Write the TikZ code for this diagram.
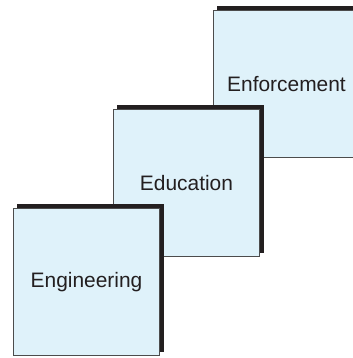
\documentclass[tikz,border=0pt]{standalone}
\usepackage{fontspec}
\setmainfont{Liberation Sans}
\usetikzlibrary{shadows}

\definecolor{stepfill}{RGB}{223,242,250}
\definecolor{inkblack}{RGB}{35,31,32}

\begin{document}
\begin{tikzpicture}[
    x=1bp, y=1bp,
    stepbox/.style={rectangle, minimum width=146bp, minimum height=147bp, text centered, draw=black!70, line width=0.8bp, fill=stepfill, text=inkblack,
        font=\fontsize{21pt}{25pt}\selectfont,
        drop shadow={shadow xshift=4bp, shadow yshift=4bp, fill=inkblack, opacity=1}}
]

\useasboundingbox (0,0) rectangle (353,358);

% Stair steps, back to front
\node[stepbox] (enforcement) at (286.5,274) {Enforcement};
\node[stepbox] (education) at (186.5,175) {Education};
\node[stepbox] (engineering) at (86.5,76) {Engineering};

\end{tikzpicture}
\end{document}
